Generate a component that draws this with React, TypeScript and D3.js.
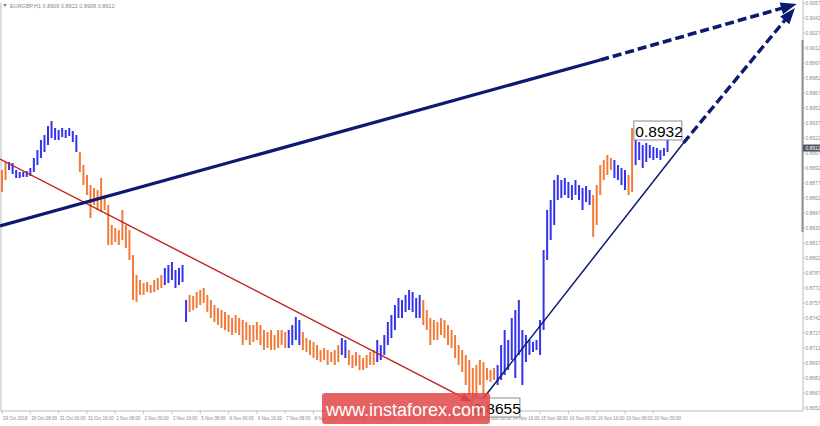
import React from 'react';
import * as d3 from 'd3';

// EURGBP H1, 2-hour sampled bars (hour index = i * 2)
const barHigh = [
  0.889, 0.8898, 0.8898, 0.8897, 0.889, 0.8888, 0.8888, 0.8889, 0.8892, 0.8902,
  0.891, 0.892, 0.8925, 0.8934, 0.8939, 0.8932, 0.893, 0.8932, 0.893, 0.8932,
  0.8929, 0.8925, 0.8908, 0.8895, 0.8885, 0.8875, 0.8872, 0.887, 0.8882, 0.8865,
  0.8855, 0.8835, 0.8832, 0.883, 0.885, 0.8835, 0.883, 0.8805, 0.8785, 0.878,
  0.8777, 0.8778, 0.8775, 0.878, 0.8782, 0.8785, 0.8792, 0.8795, 0.8798, 0.879,
  0.8792, 0.8795, 0.876, 0.8765, 0.8764, 0.8768, 0.877, 0.8772, 0.8765, 0.876,
  0.8755, 0.8752, 0.875, 0.8748, 0.8745, 0.8742, 0.8745, 0.8742, 0.874, 0.8738,
  0.8735, 0.8735, 0.8738, 0.8735, 0.873, 0.8728, 0.873, 0.8725, 0.873, 0.873,
  0.8728, 0.873, 0.8735, 0.8743, 0.874, 0.8728, 0.8722, 0.872, 0.8718, 0.8715,
  0.871, 0.8712, 0.871, 0.8708, 0.871, 0.8715, 0.8722, 0.872, 0.871, 0.8705,
  0.8708, 0.8705, 0.8702, 0.8705, 0.8708, 0.871, 0.872, 0.8715, 0.8725, 0.8738,
  0.8745, 0.8755, 0.8762, 0.876, 0.8765, 0.877, 0.8768, 0.8762, 0.8765, 0.876,
  0.875, 0.8742, 0.874, 0.8738, 0.8742, 0.874, 0.8735, 0.873, 0.8725, 0.8715,
  0.871, 0.8705, 0.87, 0.8692, 0.8695, 0.87, 0.8698, 0.8692, 0.869, 0.8692,
  0.8695, 0.8715, 0.873, 0.872, 0.8742, 0.875, 0.876, 0.873, 0.8725, 0.872,
  0.8718, 0.872, 0.874, 0.881, 0.885, 0.886, 0.888, 0.8885, 0.888, 0.8882,
  0.8878, 0.8875, 0.888, 0.8875, 0.8872, 0.8874, 0.887, 0.8865, 0.8875, 0.8895,
  0.89, 0.8905, 0.8902, 0.89, 0.8895, 0.8892, 0.889, 0.8885, 0.8932, 0.892,
  0.8918, 0.8915, 0.8917, 0.8915, 0.8913, 0.8912, 0.891, 0.8912, 0.8922
];

const barLow = [
  0.8868, 0.888, 0.889, 0.8886, 0.8882, 0.8882, 0.8883, 0.8883, 0.8884, 0.8888,
  0.8895, 0.8902, 0.8908, 0.8915, 0.8922, 0.892, 0.892, 0.8923, 0.8922, 0.8924,
  0.8918, 0.8908, 0.8888, 0.8875, 0.8865, 0.8842, 0.8855, 0.885, 0.8848, 0.885,
  0.8815, 0.8815, 0.8818, 0.8815, 0.882, 0.8812, 0.88, 0.876, 0.8758, 0.8765,
  0.8765, 0.8768, 0.8767, 0.8768, 0.877, 0.8772, 0.8775, 0.8777, 0.878, 0.8772,
  0.8775, 0.8778, 0.8738, 0.8748, 0.875, 0.8752, 0.8755, 0.8757, 0.8748, 0.8742,
  0.8738, 0.8735, 0.8732, 0.873, 0.8728, 0.8725, 0.8727, 0.8725, 0.8715, 0.872,
  0.8715, 0.8718, 0.872, 0.8715, 0.871, 0.8712, 0.871, 0.871, 0.8712, 0.8715,
  0.8712, 0.8712, 0.8715, 0.872, 0.8715, 0.871, 0.8708, 0.8705, 0.8702, 0.87,
  0.8698, 0.87, 0.8695, 0.8698, 0.8695, 0.8698, 0.8705, 0.8702, 0.8695, 0.8692,
  0.8694, 0.869, 0.869, 0.8692, 0.8695, 0.8695, 0.8698, 0.87, 0.8705, 0.8715,
  0.8722, 0.873, 0.8742, 0.8742, 0.8748, 0.875, 0.8748, 0.8742, 0.8742, 0.8735,
  0.873, 0.8715, 0.872, 0.872, 0.8725, 0.8722, 0.8715, 0.8712, 0.8702, 0.8695,
  0.8688, 0.8675, 0.8665, 0.8662, 0.8655, 0.8675, 0.8665, 0.868, 0.8678, 0.868,
  0.8675, 0.868, 0.8685, 0.869, 0.87, 0.8682, 0.8705, 0.8675, 0.8698, 0.8705,
  0.8708, 0.871, 0.8705, 0.873, 0.88, 0.882, 0.8835, 0.886, 0.8862, 0.8865,
  0.8862, 0.886, 0.8865, 0.886, 0.885, 0.8858, 0.8855, 0.8823, 0.8835, 0.8865,
  0.888, 0.8885, 0.889, 0.8882, 0.888, 0.8875, 0.887, 0.8865, 0.8868, 0.8895,
  0.89, 0.8892, 0.8898, 0.8902, 0.89, 0.8902, 0.89, 0.8904, 0.8908
];

// zigzag waves: first bar index of each wave and its direction
const waveStart = [0, 2, 22, 46, 53, 81, 85, 96, 98, 106, 119, 140, 167, 173, 177, 179];
const waveDir = ['down', 'up', 'down', 'up', 'down', 'up', 'down', 'up', 'down', 'up', 'down', 'up', 'down', 'up', 'down', 'up'];

const timeLabels = [
  '29 Oct 2018', '30 Oct 08:00', '31 Oct 00:00', '31 Oct 16:00', '1 Nov 08:00', '2 Nov 00:00',
  '2 Nov 16:00', '5 Nov 08:00', '6 Nov 00:00', '6 Nov 16:00', '7 Nov 08:00', '8 Nov 00:00',
  '8 Nov 16:00', '9 Nov 08:00', '12 Nov 00:00', '12 Nov 16:00', '13 Nov 08:00', '14 Nov 00:00',
  '14 Nov 16:00', '15 Nov 08:00', '16 Nov 00:00', '16 Nov 16:00', '19 Nov 08:00', '20 Nov 00:00'
];

const priceTicks = [
  0.9057, 0.9042, 0.9027, 0.9012, 0.8997, 0.8982, 0.8967, 0.8952, 0.8937, 0.8922,
  0.8907, 0.8892, 0.8877, 0.8862, 0.8847, 0.8832, 0.8817, 0.8802, 0.8787, 0.8772,
  0.8757, 0.8742, 0.8727, 0.8712, 0.8697, 0.8682, 0.8667, 0.8652
];

const lastOHLC = [0.8909, 0.8922, 0.8908, 0.8912];

// trend lines as [hour, price]
const longTrend = [[-1.1, 0.8834], [338, 0.9], [449, 0.9056]];
const downTrend = [[-1.1, 0.8901], [265.5, 0.8658]];
const nextTrend = [[269, 0.8655], [385, 0.8917], [448, 0.9052]];

// price labels [hour, price]
const priceNotes = [[357, 0.8932], [265.5, 0.8655]];

const NAVY = '#0c1a72';
const RED = '#c42020';
const ORANGE = '#f27b3a';
const BLUE = '#3434ee';

function arrowHead(p0: number[], p1: number[], len: number, half: number) {
  const dx = p1[0] - p0[0];
  const dy = p1[1] - p0[1];
  const d = Math.hypot(dx, dy);
  const ux = dx / d, uy = dy / d;
  const bx = p1[0] - ux * len, by = p1[1] - uy * len;
  return `${p1[0]},${p1[1]} ${bx - uy * half},${by + ux * half} ${bx + uy * half},${by - ux * half}`;
}

function back(p0: number[], p1: number[], len: number) {
  const dx = p1[0] - p0[0];
  const dy = p1[1] - p0[1];
  const d = Math.hypot(dx, dy);
  return [p1[0] - (dx / d) * len, p1[1] - (dy / d) * len];
}

export default function App() {
  const x = d3.scaleLinear().domain([0, 376]).range([2, 667.5]);
  const y = d3.scaleLinear().domain([0.8652, 0.9057]).range([408, 3]);
  const px = (p: number[]) => [x(p[0]), y(p[1])];
  const line = d3.line<number[]>();

  const frameBottom = 411;
  const axisX = 803;

  const colourOf = (i: number) => {
    const w = d3.bisectRight(waveStart, i) - 1;
    return waveDir[w] === 'up' ? BLUE : ORANGE;
  };

  const lt = longTrend.map(px);
  const dt = downTrend.map(px);
  const nt = nextTrend.map(px);

  const ltEnd = back(lt[1], lt[2], 10);
  const dtEnd = back(dt[0], dt[1], 8);
  const ntEnd = back(nt[1], nt[2], 10);

  return (
    <svg
      width={820}
      height={426}
      style={{ position: 'absolute', left: 0, top: 0, display: 'block', background: '#fff' }}
      fontFamily="'Liberation Sans', Arial, sans-serif"
    >
      <rect width={820} height={426} fill="#fff" />

      {/* frame */}
      <line x1={1} y1={3} x2={1} y2={frameBottom} stroke="#b8bcc4" />
      <line x1={1} y1={frameBottom} x2={axisX} y2={frameBottom} stroke="#b8bcc4" />
      <line x1={axisX} y1={0} x2={axisX} y2={frameBottom} stroke="#b8bcc4" />
      <line x1={axisX - 0.5} y1={40} x2={axisX - 0.5} y2={232} stroke="#8a9098" strokeWidth={2} />

      {/* title */}
      <polygon points="3,4 7,4 5,7" fill="#888" />
      <text x={10} y={7.5} fontSize={5.5} fill="#888">
        {`EURGBP,H1  ${lastOHLC.map((v) => v.toFixed(4)).join(' ')}`}
      </text>

      {/* price axis */}
      {priceTicks.map((p) => (
        <g key={p}>
          <line x1={axisX} x2={axisX + 2} y1={y(p)} y2={y(p)} stroke="#9aa0a8" strokeWidth={0.6} />
          <text x={axisX + 2.5} y={y(p) + 1.8} fontSize={4.9} fill="#8a8a8a">
            {p.toFixed(4)}
          </text>
        </g>
      ))}
      <rect x={axisX} y={y(lastOHLC[3]) - 3.5} width={17} height={7} fill="#50565f" />
      <text x={axisX + 2.5} y={y(lastOHLC[3]) + 1.8} fontSize={4.9} fill="#fff">
        {lastOHLC[3].toFixed(4)}
      </text>

      {/* time axis */}
      {timeLabels.map((t, k) => (
        <g key={t}>
          <line x1={x(k * 16)} x2={x(k * 16)} y1={frameBottom} y2={frameBottom + 3} stroke="#9aa0a8" strokeWidth={0.6} />
          <text x={x(k * 16) + 1} y={frameBottom + 8.5} fontSize={4.5} fill="#8a8a8a">
            {t}
          </text>
        </g>
      ))}

      {/* bars */}
      {barHigh.map((h, i) => (
        <line
          key={i}
          x1={x(i * 2)}
          x2={x(i * 2)}
          y1={y(h)}
          y2={y(barLow[i])}
          stroke={colourOf(i)}
          strokeWidth={2}
        />
      ))}

      {/* down trend (red) */}
      <path d={line([dt[0], dtEnd]) || ''} stroke={RED} strokeWidth={1.4} fill="none" />
      <polygon points={arrowHead(dt[0], dt[1], 11, 4)} fill={RED} />

      {/* long trend */}
      <path d={line([lt[0], lt[1]]) || ''} stroke={NAVY} strokeWidth={3.2} fill="none" />
      <path d={line([lt[1], ltEnd]) || ''} stroke={NAVY} strokeWidth={3.6} fill="none" strokeDasharray="9 4" />
      <polygon points={arrowHead(lt[1], lt[2], 16, 6)} fill={NAVY} />

      {/* next trend */}
      <path d={line([nt[0], nt[1]]) || ''} stroke={NAVY} strokeWidth={1.5} fill="none" />
      <path d={line([nt[1], ntEnd]) || ''} stroke={NAVY} strokeWidth={3.4} fill="none" strokeDasharray="9 4" />
      <polygon points={arrowHead(nt[1], nt[2], 16, 6)} fill={NAVY} />

      {/* price notes */}
      {priceNotes.map(([h, p]) => (
        <g key={p}>
          <rect x={x(h)} y={y(p) - 7} width={48} height={19} fill="#fff" stroke="#8c8c8c" strokeWidth={1} />
          <text x={x(h) + 1.5} y={y(p) + 8.5} fontSize={15.5} fill="#000">
            {p.toFixed(4)}
          </text>
        </g>
      ))}

      {/* watermark */}
      <rect x={322} y={393} width={168} height={31} rx={3} fill="#e04848" opacity={0.85} />
      <text x={406} y={416} fontSize={18} fill="#fff" textAnchor="middle">
        www.instaforex.com
      </text>
    </svg>
  );
}
